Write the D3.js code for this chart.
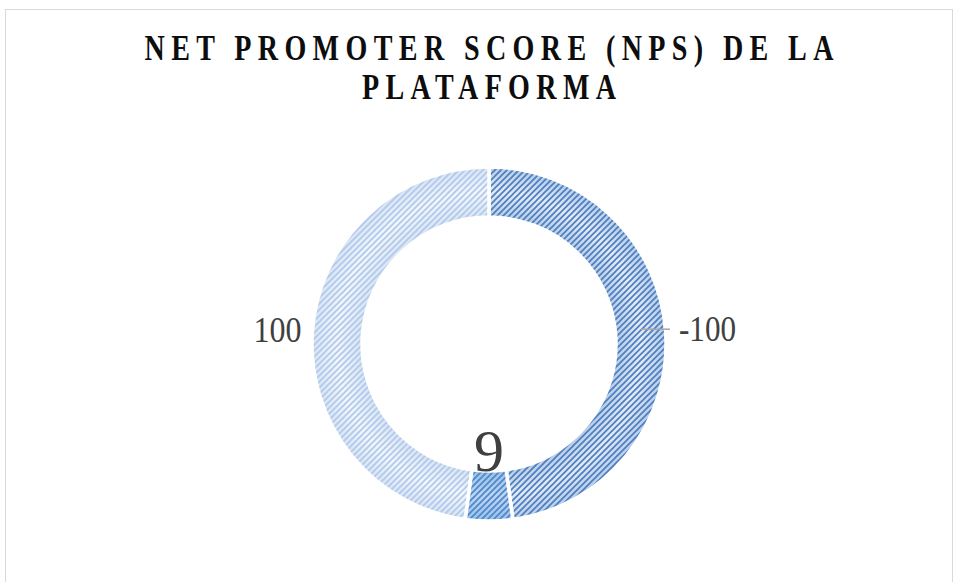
<!DOCTYPE html>
<html>
<head>
<meta charset="utf-8">
<script src="https://cdn.jsdelivr.net/npm/d3@7"></script>
<style>
  body { margin: 0; background: #fff; }
  svg { display: block; }
</style>
</head>
<body>
<svg id="chart"></svg>
<script>
// data
var categories = ["-100", "9", "100"];
var values = [100, 9, 100];
var labels = ["-100", "9", "100"];
var titleLines = ["NET PROMOTER SCORE (NPS) DE LA", "PLATAFORMA"];

var width = 958, height = 582;
var cx = 489, cy = 344, rOuter = 177, rInner = 127;

// slice looks: gradient edge / middle colours and stripe colour
var looks = [
  { edge: "#b3cae8", mid: "#e2eaf6", stripe: "#4a7dbd" },
  { edge: "#98bfea", mid: "#bcd5f1", stripe: "#4c85c9" },
  { edge: "#d6e3f4", mid: "#f2f6fc", stripe: "#b0c8ea" }
];

var svg = d3.select("#chart")
    .attr("width", width)
    .attr("height", height);

// chart border
svg.append("rect")
    .attr("x", 5.5).attr("y", 9.5)
    .attr("width", 947).attr("height", 590)
    .attr("fill", "none")
    .attr("stroke", "#d9d9d9")
    .attr("stroke-width", 1);

// title, glyphs look narrow in the picture so squeeze them a bit
var squeeze = 0.78;
var title = svg.append("g").attr("transform", "scale(" + squeeze + ",1)");
title.selectAll("text")
    .data(titleLines)
    .enter().append("text")
    .attr("x", cx / squeeze)
    .attr("y", function (d, i) { return 60 + i * 39; })
    .attr("text-anchor", "middle")
    .attr("font-family", "'Liberation Serif', 'Times New Roman', serif")
    .attr("font-weight", "bold")
    .attr("font-size", 36)
    .attr("fill", "#0d0d0d")
    .attr("textLength", function (d, i) { return (i === 0 ? 689 : 254) / squeeze; })
    .attr("lengthAdjust", "spacing")
    .text(function (d) { return d; });

var defs = svg.append("defs");
looks.forEach(function (l, i) {
    var g = defs.append("radialGradient")
        .attr("id", "grad" + i)
        .attr("gradientUnits", "userSpaceOnUse")
        .attr("cx", 0).attr("cy", 0).attr("r", rOuter);
    g.append("stop").attr("offset", rInner / rOuter).attr("stop-color", l.edge);
    g.append("stop").attr("offset", (rInner + rOuter) / 2 / rOuter).attr("stop-color", l.mid);
    g.append("stop").attr("offset", 1).attr("stop-color", l.edge);

    var p = defs.append("pattern")
        .attr("id", "hatch" + i)
        .attr("patternUnits", "userSpaceOnUse")
        .attr("width", 6).attr("height", 6);
    p.append("path")
        .attr("d", "M0,6 L6,0 M-1,1 L1,-1 M5,7 L7,5")
        .attr("stroke", l.stripe)
        .attr("stroke-width", 1.6);
});

var pie = d3.pie().sort(null).value(function (d) { return d; });
var arcs = pie(values);
var arc = d3.arc().innerRadius(rInner).outerRadius(rOuter);

var g = svg.append("g").attr("transform", "translate(" + cx + "," + cy + ")");

g.selectAll("path.base")
    .data(arcs)
    .enter().append("path")
    .attr("class", "base")
    .attr("d", arc)
    .attr("fill", function (d, i) { return "url(#grad" + i + ")"; });

g.selectAll("path.hatch")
    .data(arcs)
    .enter().append("path")
    .attr("class", "hatch")
    .attr("d", arc)
    .attr("fill", function (d, i) { return "url(#hatch" + i + ")"; })
    .attr("stroke", "#fff")
    .attr("stroke-width", 3.5);

// labels
function pointAt(d, r) {
    var a = (d.startAngle + d.endAngle) / 2;
    return [Math.sin(a) * r, -Math.cos(a) * r];
}
var labelRadius = [219, 107, 212];
var labelSize = [35, 60, 35];
var labelLength = [57, 30, 48];

// leader line for the first label
var p0 = pointAt(arcs[0], labelRadius[0]);
g.append("line")
    .attr("x1", 152).attr("x2", 181)
    .attr("y1", p0[1]).attr("y2", p0[1])
    .attr("stroke", "#a6a6a6")
    .attr("stroke-width", 1.5);

g.selectAll("text.lab")
    .data(arcs)
    .enter().append("text")
    .attr("class", "lab")
    .attr("x", function (d, i) { return pointAt(d, labelRadius[i])[0] - labelLength[i] / 2; })
    .attr("y", function (d, i) { return pointAt(d, labelRadius[i])[1]; })
    .attr("dy", "0.34em")
    .attr("font-family", "'Liberation Serif', 'Times New Roman', serif")
    .attr("font-size", function (d, i) { return labelSize[i]; })
    .attr("textLength", function (d, i) { return labelLength[i]; })
    .attr("lengthAdjust", "spacingAndGlyphs")
    .attr("fill", "#404040")
    .text(function (d, i) { return labels[i]; });
</script>
</body>
</html>
